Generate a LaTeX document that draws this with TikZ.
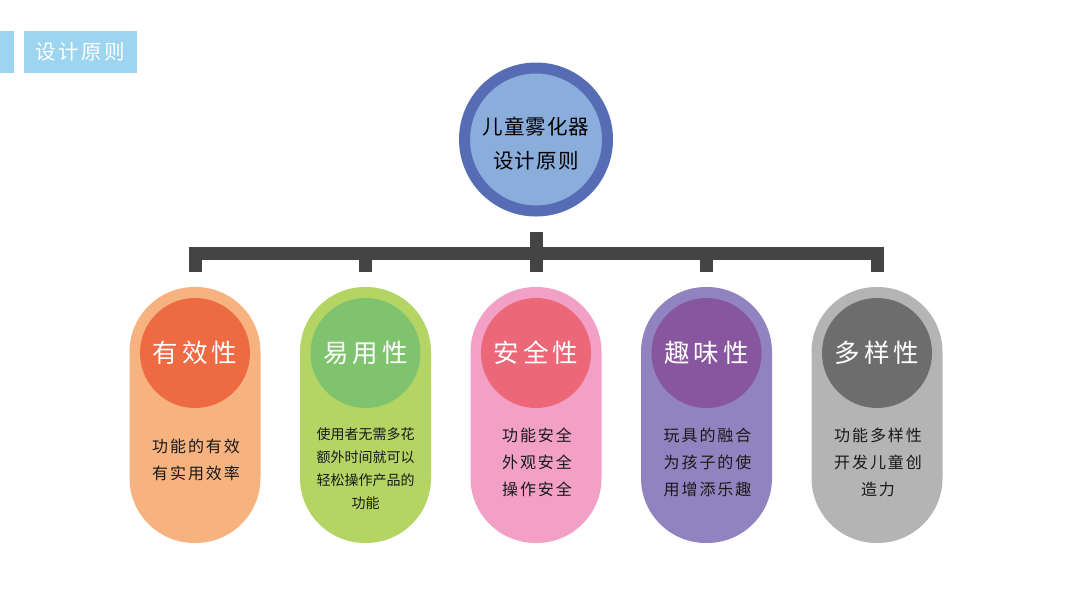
\documentclass[tikz,border=0pt]{standalone}
\usepackage{fontspec}
\newfontfamily\cjk{Noto Sans CJK SC}
\newfontfamily\cjkmid[LetterSpace=5]{Noto Sans CJK SC}
\newfontfamily\cjknote[LetterSpace=12]{Noto Sans CJK SC}
\newfontfamily\cjkwide[LetterSpace=16]{Noto Sans CJK SC}

\definecolor{titleblue}{HTML}{9DD4EF}
\definecolor{hubrim}{HTML}{566DB6}
\definecolor{hubfill}{HTML}{8BADDB}
\definecolor{barcol}{HTML}{444444}
\definecolor{pillA}{HTML}{F7B37F}\definecolor{dotA}{HTML}{EE6A43}
\definecolor{pillB}{HTML}{B4D564}\definecolor{dotB}{HTML}{7FC36E}
\definecolor{pillC}{HTML}{F2A0C5}\definecolor{dotC}{HTML}{EC6878}
\definecolor{pillD}{HTML}{9183BF}\definecolor{dotD}{HTML}{88559F}
\definecolor{pillE}{HTML}{B4B4B4}\definecolor{dotE}{HTML}{6D6D6D}

\tikzset{
  pill/.style={fill=#1, rounded corners=65pt, minimum width=131pt,
    minimum height=256pt, inner sep=0pt},
  badge/.style={circle, fill=#1, minimum size=110pt, inner sep=0pt,
    text=white, font=\cjkwide\fontsize{25.5}{26}\selectfont},
  note/.style={align=center, text=black!90,
    font=\cjknote\fontsize{16}{27}\selectfont},
  bar/.style={draw=barcol, line width=13pt, line cap=butt, line join=miter}
}

\begin{document}
\begin{tikzpicture}[x=1pt,y=-1pt]
   \useasboundingbox[fill=white] (0,0) rectangle (1067,600);
   % title tag
   \fill[titleblue] (0,31) rectangle (14,73);
   \node[fill=titleblue, minimum width=113pt, minimum height=42pt,
     text=white, font=\cjknote\fontsize{20.5}{20}\selectfont]
     (title) at (80.5,52) {设计原则};
   % hub
   \node[circle, fill=hubfill, draw=hubrim, line width=11pt,
     minimum size=143pt, inner sep=0pt] (hub) at (536,139.5) {};
   \node[align=center, font=\cjkmid\fontsize{20.5}{34}\selectfont]
     (hubtext) at ([yshift=-4.5pt]hub.center) {儿童雾化器\\设计原则};
   % pills
   \node[pill=pillA] (p1) at (195,415) {};
   \node[pill=pillB] (p2) at (365.5,415) {};
   \node[pill=pillC] (p3) at (536,415) {};
   \node[pill=pillD] (p4) at (706.5,415) {};
   \node[pill=pillE] (p5) at (877,415) {};
   \node[badge=dotA] (b1) at (195,353) {有效性};
   \node[badge=dotB] (b2) at (365.5,353) {易用性};
   \node[badge=dotC] (b3) at (536,353) {安全性};
   \node[badge=dotD] (b4) at (706.5,353) {趣味性};
   \node[badge=dotE] (b5) at (877,353) {多样性};
   \node[note] (t1) at (196,460) {功能的有效\\有实用效率};
   \node[note, font=\cjk\fontsize{14}{23}\selectfont] (t2) at (365.5,469)
     {使用者无需多花\\额外时间就可以\\轻松操作产品的\\功能};
   \node[note] (t3) at (537,462) {功能安全\\外观安全\\操作安全};
   \node[note] (t4) at (707.5,462) {玩具的融合\\为孩子的使\\用增添乐趣};
   \node[note] (t5) at (878,462) {功能多样性\\开发儿童创\\造力};
   % bracket
   \draw[bar] ([yshift=15pt]p1.north) -- ++(0,-18) -| ([yshift=15pt]p5.north);
   \foreach \p in {p2,p4}
     \draw[bar] ([yshift=15pt]\p.north) -- ++(0,-18);
   \draw[bar] ([yshift=-15pt]hub.south) -- ([yshift=15pt]p3.north);
\end{tikzpicture}
\end{document}
